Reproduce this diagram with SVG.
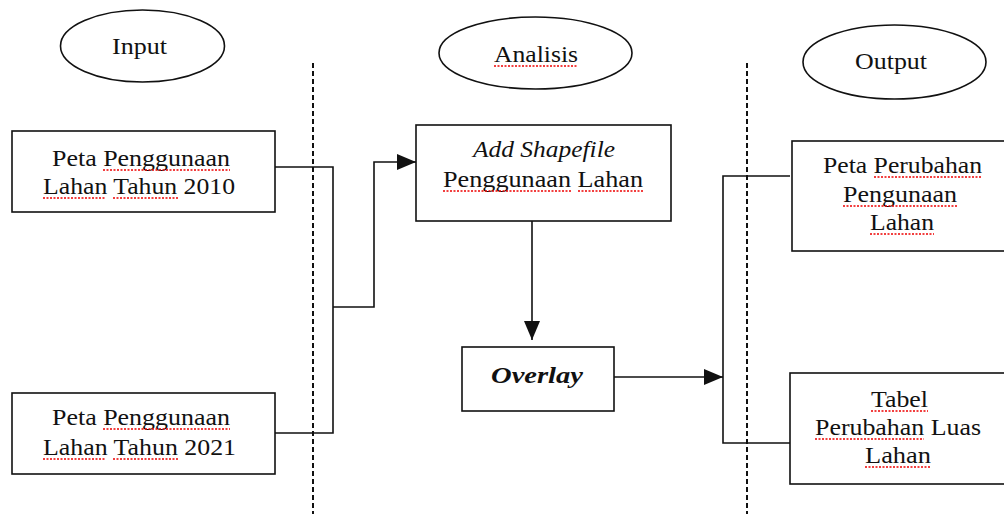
<svg xmlns="http://www.w3.org/2000/svg" width="1004" height="514" viewBox="0 0 1004 514">
<style>
  .shape { fill: #fff; stroke: #111; stroke-width: 1.6; }
  .line { fill: none; stroke: #111; stroke-width: 1.6; }
  .dash { fill: none; stroke: #111; stroke-width: 2; stroke-dasharray: 5 3; }
  text { font-family: "Liberation Serif", "Times New Roman", serif; font-size: 23.5px; fill: #111; text-anchor: start; }
  .it { font-style: italic; }
  .bi { font-style: italic; font-weight: bold; }
  .sq { fill: none; stroke: #e00; stroke-width: 1.4; stroke-dasharray: 2 1.5; }
</style>
<defs>
  <marker id="arr" markerUnits="userSpaceOnUse" markerWidth="20" markerHeight="16" refX="19" refY="8" orient="auto">
    <path d="M0,0 L19,8 L0,16 Z" fill="#111"/>
  </marker>
</defs>

<g id="dividers">
  <line class="dash" x1="313" y1="63" x2="313" y2="514"/>
  <line class="dash" x1="747" y1="63" x2="747" y2="514"/>
</g>

<g id="connectors">
  <polyline class="line" points="275,167 333,167 333,433 275,433"/>
  <polyline class="line" points="333,307 374,307 374,162 416,162" marker-end="url(#arr)"/>
  <line class="line" x1="532" y1="221" x2="532" y2="340" marker-end="url(#arr)"/>
  <line class="line" x1="614" y1="377" x2="723" y2="377" marker-end="url(#arr)"/>
  <polyline class="line" points="790,176 723,176 723,443 790,443"/>
</g>

<g id="input-label">
  <ellipse class="shape" cx="142.5" cy="46" rx="82" ry="36"/>
  <text x="112" y="54" textLength="55" lengthAdjust="spacingAndGlyphs">Input</text>
</g>

<g id="analisis-label">
  <ellipse class="shape" cx="535.5" cy="53" rx="96.5" ry="36"/>
  <text x="494" y="62" textLength="84" lengthAdjust="spacingAndGlyphs">Analisis</text>
  <line class="sq" x1="494" y1="66" x2="578" y2="66"/>
</g>

<g id="output-label">
  <ellipse class="shape" cx="894.5" cy="62" rx="91.5" ry="37"/>
  <text x="855" y="69" textLength="72" lengthAdjust="spacingAndGlyphs">Output</text>
</g>

<g id="peta-2010">
  <rect class="shape" x="12" y="131" width="263" height="81"/>
  <text x="52" y="166" textLength="178" lengthAdjust="spacingAndGlyphs">Peta Penggunaan</text>
  <text x="43" y="194" textLength="192" lengthAdjust="spacingAndGlyphs">Lahan Tahun 2010</text>
  <line class="sq" x1="103" y1="170" x2="230" y2="170"/>
  <line class="sq" x1="43" y1="198" x2="106" y2="198"/>
  <line class="sq" x1="113" y1="198" x2="179" y2="198"/>
</g>

<g id="peta-2021">
  <rect class="shape" x="12" y="393" width="263" height="81"/>
  <text x="52" y="425" textLength="178" lengthAdjust="spacingAndGlyphs">Peta Penggunaan</text>
  <text x="43" y="455" textLength="193" lengthAdjust="spacingAndGlyphs">Lahan Tahun 2021</text>
  <line class="sq" x1="103" y1="429" x2="230" y2="429"/>
  <line class="sq" x1="43" y1="459" x2="106" y2="459"/>
  <line class="sq" x1="113" y1="459" x2="179" y2="459"/>
</g>

<g id="add-shapefile">
  <rect class="shape" x="416" y="125" width="255" height="96"/>
  <text class="it" x="473" y="157" textLength="142" lengthAdjust="spacingAndGlyphs">Add Shapefile</text>
  <text x="443" y="187" textLength="200" lengthAdjust="spacingAndGlyphs">Penggunaan Lahan</text>
  <line class="sq" x1="443" y1="191" x2="571" y2="191"/>
  <line class="sq" x1="578" y1="191" x2="643" y2="191"/>
</g>

<g id="overlay">
  <rect class="shape" x="462" y="347" width="152" height="64"/>
  <text class="bi" x="491" y="383" textLength="92" lengthAdjust="spacingAndGlyphs">Overlay</text>
</g>

<g id="peta-perubahan">
  <rect class="shape" x="792" y="141" width="220" height="110"/>
  <text x="823" y="173" textLength="159" lengthAdjust="spacingAndGlyphs">Peta Perubahan</text>
  <text x="843" y="202" textLength="114" lengthAdjust="spacingAndGlyphs">Pengunaan</text>
  <text x="870" y="230" textLength="64" lengthAdjust="spacingAndGlyphs">Lahan</text>
  <line class="sq" x1="874" y1="177" x2="982" y2="177"/>
  <line class="sq" x1="843" y1="206" x2="957" y2="206"/>
  <line class="sq" x1="870" y1="234" x2="934" y2="234"/>
</g>

<g id="tabel-perubahan">
  <rect class="shape" x="790" y="373" width="222" height="111"/>
  <text x="871" y="407" textLength="57" lengthAdjust="spacingAndGlyphs">Tabel</text>
  <text x="815" y="435" textLength="166" lengthAdjust="spacingAndGlyphs">Perubahan Luas</text>
  <text x="865" y="463" textLength="66" lengthAdjust="spacingAndGlyphs">Lahan</text>
  <line class="sq" x1="871" y1="411" x2="928" y2="411"/>
  <line class="sq" x1="815" y1="439" x2="924" y2="439"/>
  <line class="sq" x1="865" y1="467" x2="931" y2="467"/>
</g>
</svg>
